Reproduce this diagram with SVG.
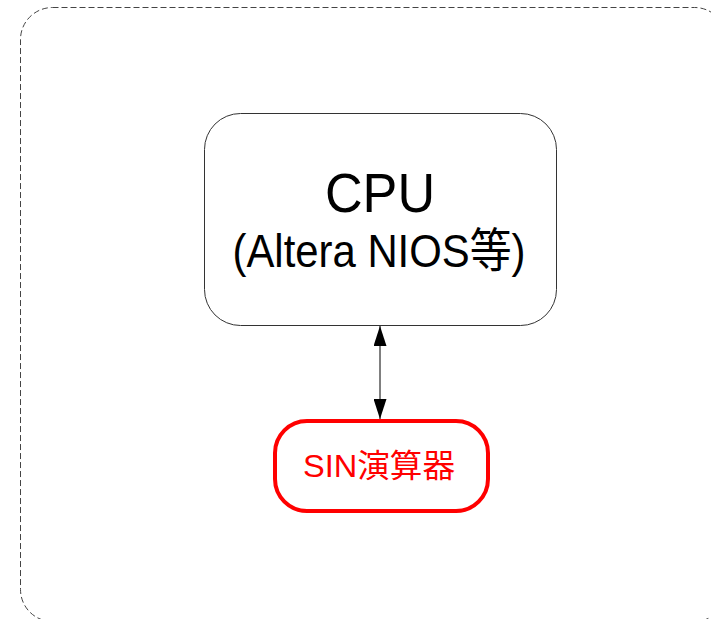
<svg xmlns="http://www.w3.org/2000/svg" width="711" height="619" viewBox="0 0 711 619">
<style>
.t{font-family:"Liberation Sans","Noto Sans CJK JP",sans-serif;text-anchor:middle}
</style>
<defs>
<marker id="ah" viewBox="0 0 20 13" refX="20" refY="6.5" markerWidth="20" markerHeight="13" markerUnits="userSpaceOnUse" orient="auto-start-reverse">
<path d="M0,0 L20,6.5 L0,13 Z" fill="#000"/>
</marker>
</defs>
<rect x="0" y="0" width="711" height="619" fill="#fff"/>
<g id="frame">
<rect x="20.5" y="7.5" width="706" height="614" rx="32" ry="32" fill="none" stroke="#444" stroke-width="1" stroke-dasharray="6,3"/>
</g>
<g id="connectors">
<line x1="380" y1="326" x2="380" y2="419" stroke="#000" stroke-width="1" marker-start="url(#ah)" marker-end="url(#ah)"/>
</g>
<g id="cpu">
<rect x="204.5" y="113.5" width="352" height="212" rx="36" ry="36" fill="#fff" stroke="#333" stroke-width="1"/>
<text class="t" x="380" y="212" font-size="56" textLength="110" lengthAdjust="spacingAndGlyphs">CPU</text>
<text class="t" x="379" y="267" font-size="47" textLength="293" lengthAdjust="spacingAndGlyphs">(Altera NIOS等)</text>
</g>
<g id="sin">
<rect x="275" y="421" width="213" height="90" rx="32" ry="32" fill="#fff" stroke="#f00" stroke-width="4"/>
<text class="t" x="379" y="477" font-size="32" fill="#f00" textLength="152" lengthAdjust="spacingAndGlyphs">SIN演算器</text>
</g>
</svg>
